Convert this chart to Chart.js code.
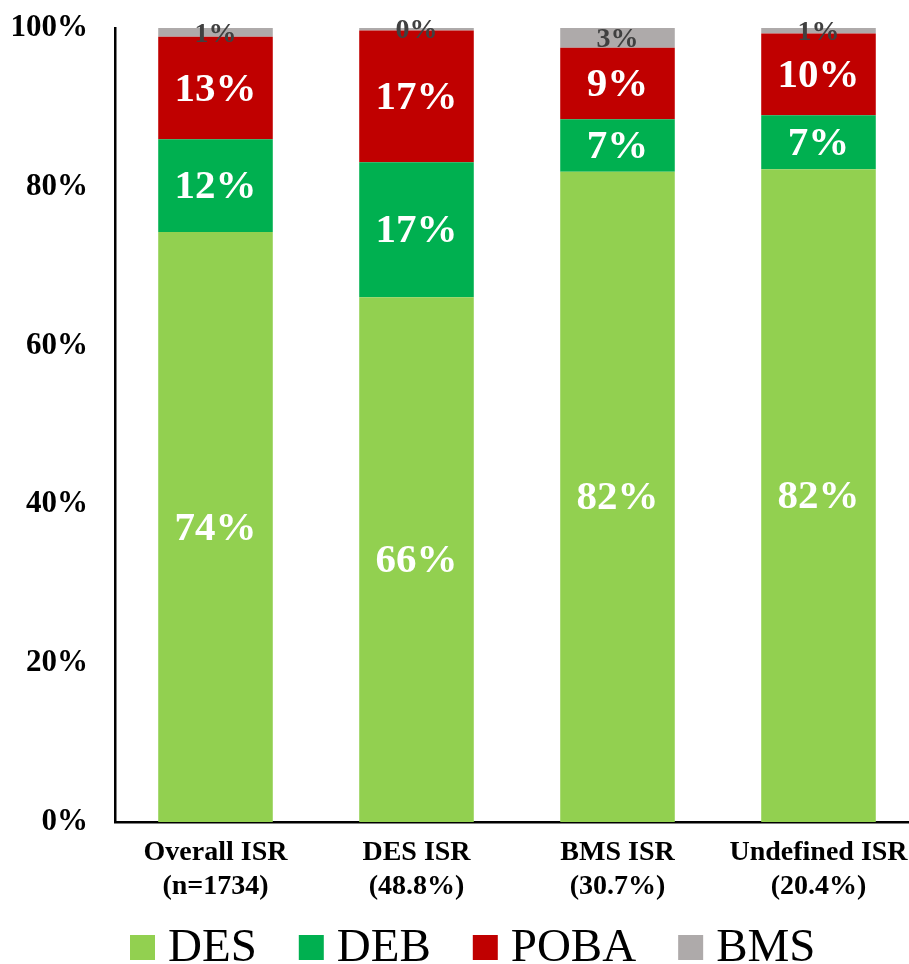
<!DOCTYPE html>
<html>
<head>
<meta charset="utf-8">
<script src="https://cdn.jsdelivr.net/npm/chart.js@4/dist/chart.umd.min.js"></script>
<style>
    body { margin: 0; background: #ffffff; }
    #wrap { width: 909px; height: 964px; overflow: hidden; }
</style>
</head>
<body>
<div id="wrap">
    <canvas id="isrChart" width="919" height="964"></canvas>
</div>
<script>
let categories = [
    ['Overall ISR', '(n=1734)'],
    ['DES ISR', '(48.8%)'],
    ['BMS ISR', '(30.7%)'],
    ['Undefined ISR', '(20.4%)']
];
let desValues = [74.3, 66.1, 81.9, 82.2];
let debValues = [11.7, 17.0, 6.6, 6.8];
let pobaValues = [12.9, 16.6, 9.0, 10.3];
let bmsValues = [1.1, 0.3, 2.5, 0.7];
let yTicks = [0, 20, 40, 60, 80, 100];

let serif = '"Liberation Serif", "Times New Roman", serif';
Chart.defaults.font.family = serif;
Chart.defaults.color = '#000000';

// value labels in the middle of every segment
let segmentLabels = {
    id: 'segmentLabels',
    afterDatasetsDraw(chart) {
        let ctx = chart.ctx;
        ctx.save();
        ctx.textAlign = 'center';
        ctx.textBaseline = 'middle';
        chart.data.datasets.forEach((ds, i) => {
            let meta = chart.getDatasetMeta(i);
            ctx.fillStyle = ds.labelColor;
            ctx.font = 'bold ' + ds.labelSize + 'px ' + serif;
            meta.data.forEach((bar, j) => {
                let y = (bar.y + bar.base) / 2;
                ctx.fillText(Math.round(ds.data[j]) + '%', bar.x, y + 2);
            });
        });
        ctx.restore();
    }
};

// legend row under the axis labels
let bottomLegend = {
    id: 'bottomLegend',
    afterDraw(chart) {
        let ctx = chart.ctx;
        ctx.save();
        ctx.font = '47px ' + serif;
        ctx.textBaseline = 'alphabetic';
        let x = 130;
        chart.data.datasets.forEach(ds => {
            ctx.fillStyle = ds.backgroundColor;
            ctx.fillRect(x, 935, 25, 25);
            ctx.fillStyle = '#000000';
            ctx.fillText(ds.label, x + 38, 961);
            x += 38 + ctx.measureText(ds.label).width + 42;
        });
        ctx.restore();
    }
};

let chart = new Chart(document.getElementById('isrChart'), {
    type: 'bar',
    data: {
        labels: categories,
        datasets: [
            { label: 'DES', data: desValues, backgroundColor: '#92D050', labelColor: '#ffffff', labelSize: 41 },
            { label: 'DEB', data: debValues, backgroundColor: '#00B050', labelColor: '#ffffff', labelSize: 41 },
            { label: 'POBA', data: pobaValues, backgroundColor: '#C00000', labelColor: '#ffffff', labelSize: 41 },
            { label: 'BMS', data: bmsValues, backgroundColor: '#AEAAAA', labelColor: '#404040', labelSize: 28 }
        ]
    },
    options: {
        responsive: false,
        animation: false,
        layout: { padding: { top: 28, bottom: 60, left: 0, right: 0 } },
        datasets: { bar: { barPercentage: 0.57, categoryPercentage: 1.0, borderWidth: 0 } },
        plugins: {
            legend: { display: false },
            tooltip: { enabled: false }
        },
        scales: {
            x: {
                stacked: true,
                grid: { display: false, drawTicks: false },
                border: { display: true, color: '#000000', width: 2.5 },
                ticks: { font: { size: 28, weight: 'bold' }, color: '#000000', padding: 14, maxRotation: 0 },
                afterFit: scale => {
                    scale.height = 82;
                    scale.paddingLeft = 0;
                    scale.paddingRight = 0;
                }
            },
            y: {
                stacked: true,
                min: 0,
                max: 100,
                afterBuildTicks: scale => { scale.ticks = yTicks.map(v => ({ value: v })); },
                grid: { display: false, drawTicks: false },
                border: { display: true, color: '#000000', width: 2.5 },
                ticks: {
                    font: { size: 31, weight: 'bold' },
                    color: '#000000',
                    padding: 27,
                    callback: v => v + '%'
                },
                afterFit: scale => {
                    scale.width = 115;
                    scale.paddingTop = 0;
                    scale.paddingBottom = 0;
                }
            }
        }
    },
    plugins: [segmentLabels, bottomLegend]
});
</script>
</body>
</html>
